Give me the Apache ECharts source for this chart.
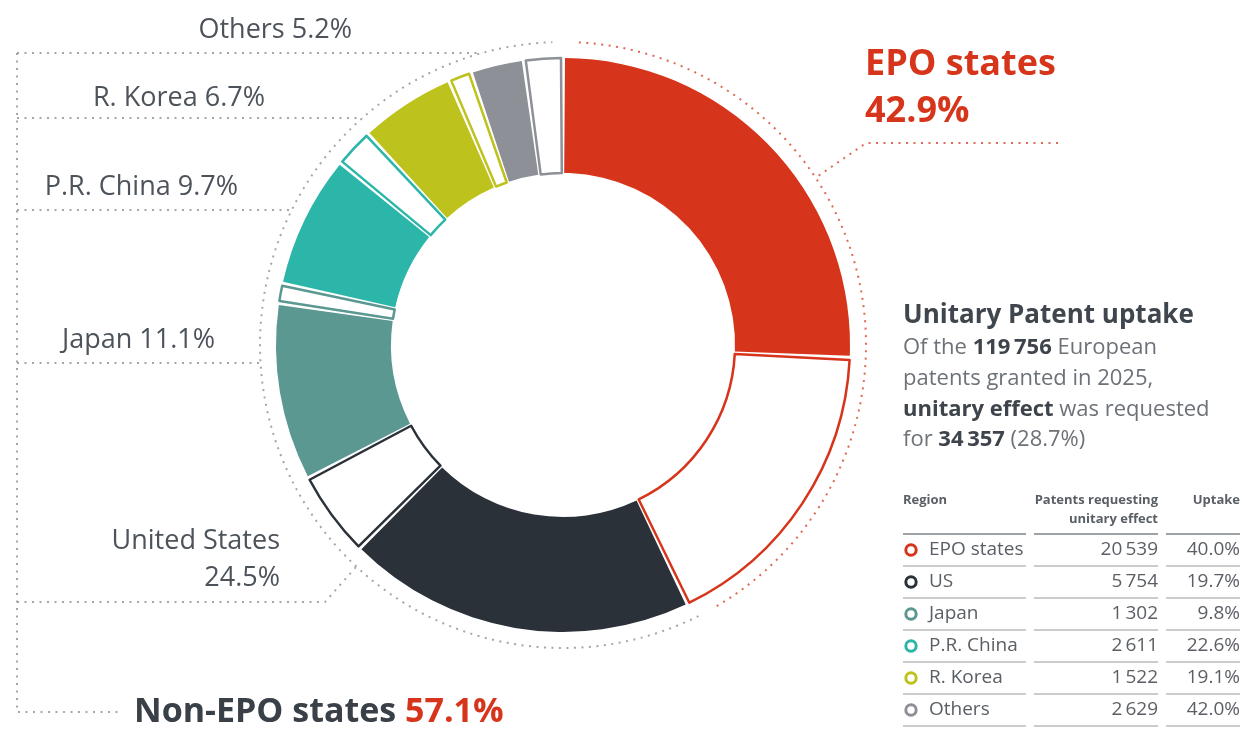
<!DOCTYPE html>
<html>
<head>
<meta charset="utf-8">
<title>Unitary Patent uptake</title>
<script src="https://cdn.jsdelivr.net/npm/echarts@6/dist/echarts.min.js"></script>
<style>
  html, body { margin: 0; padding: 0; background: #fff; }
  #chart { width: 1244px; height: 729px; }
</style>
</head>
<body>
<div id="chart"></div>
<script>
// data
const regions = ['EPO states', 'US', 'Japan', 'P.R. China', 'R. Korea', 'Others'];
const donutLabels = ['EPO states', 'United States', 'Japan', 'P.R. China', 'R. Korea', 'Others'];
const shares = [42.9, 24.5, 11.1, 9.7, 6.7, 5.2];          // % of granted patents
const requested = [20539, 5754, 1302, 2611, 1522, 2629];   // patents requesting unitary effect
const uptake = [40.0, 19.7, 9.8, 22.6, 19.1, 42.0];        // % uptake per region
const nonEpoShare = 57.1;
const totalGranted = 119756;
const totalRequested = 34357;
const totalUptake = 28.7;

const colors = ['#d7351b', '#2b3139', '#5b9891', '#2cb6a9', '#bdc21c', '#8d9197'];
const FONT = '"Open Sans", "Noto Sans", sans-serif';
const GREY_TXT = '#4d535a';
const DOT = '#a3a7ab';

// geometry
const CX = 563, CY = 345;
const R_IN = 172, R_OUT = 287;
const R_DOT = 303;
const LEFT_X = 17;

function fmt(n) {
  return String(n).replace(/\B(?=(\d{3})+(?!\d))/g, '\u2009');
}
function clockPoint(deg, r) {
  const a = deg * Math.PI / 180;
  return [CX + r * Math.sin(a), CY - r * Math.cos(a)];
}
function circleX(y) {
  return CX - Math.sqrt(R_DOT * R_DOT - (y - CY) * (y - CY));
}
function rad(deg) {
  return (deg - 90) * Math.PI / 180;
}

// filled part = no unitary effect, white part = unitary effect requested
let pieData = [];
regions.forEach(function (r, i) {
  const part = shares[i] * uptake[i] / 100;
  pieData.push({ name: r, value: shares[i] - part, itemStyle: { color: colors[i] } });
  pieData.push({
    name: r + ' (unitary)',
    value: part,
    itemStyle: { color: '#ffffff', borderColor: colors[i], borderWidth: 2.5 }
  });
});

let graphics = [];
function dotted(points, color) {
  graphics.push({
    type: 'polyline', silent: true,
    shape: { points: points },
    style: { stroke: color || DOT, lineWidth: 2, lineDash: [2, 5.5], fill: null }
  });
}
function text(str, x, y, opt) {
  graphics.push({
    type: 'text', silent: true,
    style: Object.assign({
      text: str, x: x, y: y,
      fill: GREY_TXT, font: '27px ' + FONT,
      align: 'left', verticalAlign: 'middle'
    }, opt || {})
  });
}

// dotted guide circle: red for EPO states, grey for the rest
const epoEnd = shares[0] / 100 * 360;
graphics.push({
  type: 'arc', silent: true,
  shape: { cx: CX, cy: CY, r: R_DOT, startAngle: rad(3), endAngle: rad(epoEnd - 4), clockwise: true },
  style: { stroke: '#de6a55', lineWidth: 2, lineDash: [2, 5.5], fill: null }
});
graphics.push({
  type: 'arc', silent: true,
  shape: { cx: CX, cy: CY, r: R_DOT, startAngle: rad(epoEnd - 1), endAngle: rad(358), clockwise: true },
  style: { stroke: DOT, lineWidth: 2, lineDash: [2, 5.5], fill: null }
});

// leader lines on the left
const leaderY = [53, 118, 210, 363];
leaderY.forEach(function (y) {
  dotted([[LEFT_X, y], [circleX(y), y]]);
});
const usBend = clockPoint(223, R_DOT);
dotted([[LEFT_X, 602], [325, 602], usBend]);
dotted([[LEFT_X, 53], [LEFT_X, 712], [120, 712]]);

// EPO leader on the right
dotted([[1058, 143], [866, 143], clockPoint(56.5, R_DOT)], '#de6a55');

// region labels
text(donutLabels[5] + ' ' + shares[5] + '%', 352, 30, { align: 'right' });
text(donutLabels[4] + ' ' + shares[4] + '%', 265, 98, { align: 'right' });
text(donutLabels[3] + ' ' + shares[3] + '%', 238, 187, { align: 'right' });
text(donutLabels[2] + ' ' + shares[2] + '%', 215, 340, { align: 'right' });
text(donutLabels[1], 280, 541, { align: 'right' });
text(shares[1] + '%', 280, 578, { align: 'right' });
text(donutLabels[0], 865, 65, { fill: colors[0], font: 'bold 36px ' + FONT });
text(shares[0] + '%', 865, 112, { fill: colors[0], font: 'bold 36px ' + FONT });
text('{a|Non-EPO states }{b|' + nonEpoShare + '%}', 134, 712, {
  rich: {
    a: { fill: '#3a4047', fontSize: 34, fontWeight: 'bold', fontFamily: FONT },
    b: { fill: colors[0], fontSize: 34, fontWeight: 'bold', fontFamily: FONT }
  }
});

// right-hand panel
const PX = 903;
text('Unitary Patent uptake', PX, 316, { fill: '#40464d', font: 'bold 26px ' + FONT });
const para = {
  r: { fill: '#6d7278', fontSize: 22, fontFamily: FONT },
  b: { fill: '#3e444b', fontSize: 22, fontWeight: 'bold', fontFamily: FONT }
};
text('{r|Of the }{b|' + fmt(totalGranted) + '}{r| European}', PX, 348, { rich: para });
text('{r|patents granted in 2025,}', PX, 379, { rich: para });
text('{b|unitary effect}{r| was requested}', PX, 410, { rich: para });
text('{r|for }{b|' + fmt(totalRequested) + '}{r| (' + totalUptake + '%)}', PX, 440, { rich: para });

// table
const segs = [[903, 1026], [1034, 1158], [1166, 1240]];
const headFont = 'bold 13px ' + FONT;
text('Region', 903, 500, { fill: '#5a5f65', font: headFont });
text('Patents requesting', 1158, 500, { fill: '#5a5f65', font: headFont, align: 'right' });
text('unitary effect', 1158, 519, { fill: '#5a5f65', font: headFont, align: 'right' });
text('Uptake', 1240, 500, { fill: '#5a5f65', font: headFont, align: 'right' });
function rule(y, w, c) {
  segs.forEach(function (s) {
    graphics.push({
      type: 'line', silent: true,
      shape: { x1: s[0], y1: y, x2: s[1], y2: y },
      style: { stroke: c, lineWidth: w }
    });
  });
}
rule(534, 2.2, '#9ea3a8');
regions.forEach(function (r, i) {
  const y = 550 + i * 32;
  graphics.push({
    type: 'circle', silent: true,
    shape: { cx: 911, cy: y, r: 5.2 },
    style: { fill: '#fff', stroke: colors[i], lineWidth: 3 }
  });
  text(r, 929, y, { fill: '#5a5f65', font: '19px ' + FONT });
  text(fmt(requested[i]), 1158, y, { fill: '#5a5f65', font: '19px ' + FONT, align: 'right' });
  text(uptake[i].toFixed(1) + '%', 1240, y, { fill: '#5a5f65', font: '19px ' + FONT, align: 'right' });
  rule(y + 16, 1.5, '#b9bdc1');
});

let chart = echarts.init(document.getElementById('chart'));
chart.setOption({
  animation: false,
  series: [{
    type: 'pie',
    silent: true,
    center: [CX, CY],
    radius: [R_IN, R_OUT],
    startAngle: 90,
    clockwise: true,
    padAngle: 0.8,
    label: { show: false },
    labelLine: { show: false },
    data: pieData
  }],
  graphic: graphics
});
</script>
</body>
</html>
